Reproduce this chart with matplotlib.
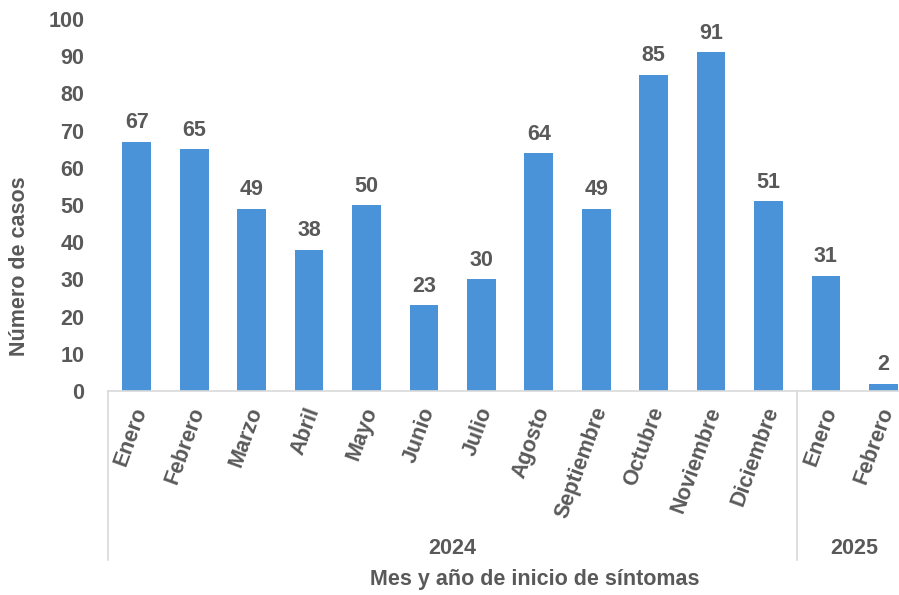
import matplotlib
matplotlib.use("Agg")
import matplotlib.pyplot as plt
import matplotlib.transforms as mtransforms
from matplotlib.lines import Line2D

plt.rcParams['font.family'] = ['Liberation Sans', 'DejaVu Sans']

months = ["Enero", "Febrero", "Marzo", "Abril", "Mayo", "Junio", "Julio", "Agosto",
          "Septiembre", "Octubre", "Noviembre", "Diciembre", "Enero", "Febrero"]
cases = [67, 65, 49, 38, 50, 23, 30, 64, 49, 85, 91, 51, 31, 2]
years = ["2024", "2025"]
months_per_year = [12, 2]
yticks = [0, 10, 20, 30, 40, 50, 60, 70, 80, 90, 100]

TXT = "#595959"
BAR = "#4A93D9"
AX = "#D9D9D9"
FS = 15.5

W, H = 899, 595
fig = plt.figure(figsize=(W / 100, H / 100), dpi=100)
left, right, top, bottom = 108, 912, 19, 391
ax = fig.add_axes([left / W, 1 - bottom / H, (right - left) / W, (bottom - top) / H])

x = list(range(len(cases)))
bars = ax.bar(x, cases, width=0.5, color=BAR, zorder=2)
for xi, v in zip(x, cases):
    ax.annotate(str(v), (xi, v), xytext=(0, 6), textcoords="offset points",
                ha="center", va="bottom", fontsize=FS, fontweight="bold", color=TXT)

ax.set_xlim(-0.5, len(cases) - 0.5)
ax.set_ylim(0, 100)
ax.set_yticks(yticks)
ax.tick_params(axis="y", length=0, pad=17, labelsize=FS, labelcolor=TXT)
for lab in ax.get_yticklabels():
    lab.set_fontweight("bold")
ax.set_xticks(x)
ax.set_xticklabels(months, rotation=70, ha="right", va="center", rotation_mode="anchor",
                   fontsize=FS, fontweight="bold", color=TXT)
ax.tick_params(axis="x", length=0, pad=12)
offset = mtransforms.ScaledTranslation(5 / 100, 0, fig.dpi_scale_trans)
for lab in ax.get_xticklabels():
    lab.set_transform(lab.get_transform() + offset)
for s in ["left", "right", "top"]:
    ax.spines[s].set_visible(False)
ax.spines["bottom"].set_color(AX)
ax.spines["bottom"].set_linewidth(1.2)

# multi-level category separators and year labels
sep_bottom = 1 - 560 / H
axis_y = 1 - bottom / H
start = 0
bounds = [0]
for n in months_per_year:
    start += n
    bounds.append(start)
for b in bounds[:-1]:
    xd = ax.transData.transform((b - 0.5, 0))[0]
    xf = xd / fig.dpi / fig.get_figwidth()
    fig.add_artist(Line2D([xf, xf], [sep_bottom, axis_y], color=AX, lw=1.2))
for i, yr in enumerate(years):
    c = (bounds[i] + bounds[i + 1] - 1) / 2
    xd = ax.transData.transform((c, 0))[0]
    xf = xd / fig.dpi / fig.get_figwidth()
    fig.text(xf, 1 - 548 / H, yr, ha="center", va="center", fontsize=FS,
             fontweight="bold", color=TXT)

fig.text(535 / W, 1 - 580 / H, "Mes y año de inicio de síntomas", ha="center", va="center",
         fontsize=FS, fontweight="bold", color=TXT)
fig.text(20 / W, 1 - 266 / H, "Número de casos", ha="center", va="center", rotation=90,
         fontsize=FS, fontweight="bold", color=TXT)

fig.savefig("out.png", dpi=100)
